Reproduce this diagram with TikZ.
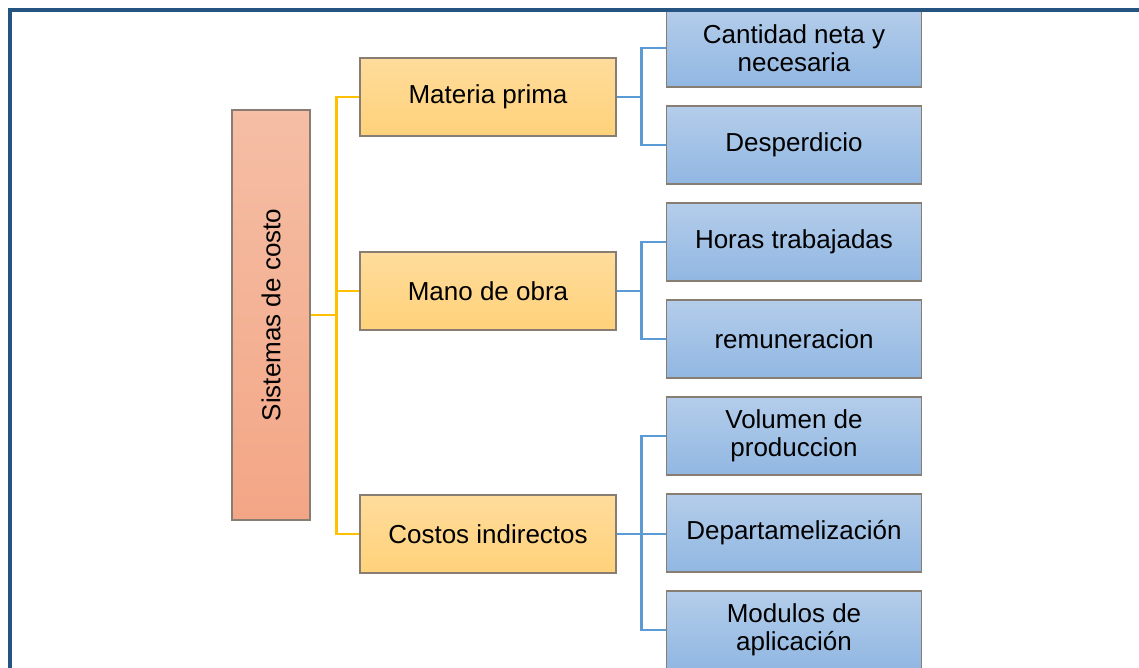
\documentclass[tikz,border=0pt]{standalone}
\usepackage{fontspec}
\setmainfont{Liberation Sans}
\usetikzlibrary{calc,chains,positioning}
\definecolor{framebl}{RGB}{38,84,128}
\definecolor{linegold}{RGB}{255,192,0}
\definecolor{lineblue}{RGB}{91,155,213}
\definecolor{edgegray}{RGB}{135,125,115}
\definecolor{salmontop}{RGB}{245,190,165}
\definecolor{salmonbot}{RGB}{243,166,134}
\definecolor{goldtop}{RGB}{255,220,156}
\definecolor{goldbot}{RGB}{255,210,122}
\definecolor{bluetop}{RGB}{180,205,234}
\definecolor{bluebot}{RGB}{145,183,226}
\tikzset{
  rootbox/.style={ % the tall title box on the left
    draw=edgegray, rectangle, line width=0.6pt,
    minimum width=39pt, minimum height=205pt, inner sep=0pt,
    top color=salmontop, bottom color=salmonbot
  },
  tier/.style={ % the three cost elements
    draw=edgegray, rectangle, line width=0.6pt,
    minimum width=128pt, minimum height=39pt, inner sep=2pt,
    top color=goldtop, bottom color=goldbot, align=center
  },
  leaf/.style={ % the detail boxes on the right
    draw=edgegray, rectangle, line width=0.6pt,
    minimum width=127.5pt, minimum height=39pt, inner sep=2pt,
    top color=bluetop, bottom color=bluebot, align=center
  },
  goldline/.style={draw=linegold, line width=1.3pt},
  blueline/.style={draw=lineblue, line width=1.2pt},
  frame/.style={draw=framebl, line width=2pt}
}
\begin{document}
\begin{tikzpicture}[
      x=0.5pt, y=-0.5pt,
      font=\fontsize{13}{14.2}\selectfont,
      start chain=leaves going below, node distance=8.9pt
    ]
    \useasboundingbox (0,0) rectangle (1139,668);
    \clip (0,0) rectangle (1139,668);

    \node[rootbox] (sis) at (271,315) {\rotatebox{90}{Sistemas de costo}};
    \node[tier] (mp) at (488,97) {Materia prima};
    \node[tier] (mo) at (488,291) {Mano de obra};
    \node[tier] (ci) at (488,534) {Costos indirectos};

    \node[leaf,on chain] (cn) at (794,48) {Cantidad neta y\\necesaria};
    \node[leaf,on chain] (de) {Desperdicio};
    \node[leaf,on chain] (ht) {Horas trabajadas};
    \node[leaf,on chain] (re) {remuneracion};
    \node[leaf,on chain] (vp) {Volumen de\\produccion};
    \node[leaf,on chain] (dp) {Departamelización};
    \node[leaf,on chain] (ma) {Modulos de\\aplicación};

    % gold tree from the title
    \coordinate (gbus) at ($(sis.east)+(12.8pt,0)$);
    \draw[goldline] (sis.east) -- (gbus);
    \draw[goldline] (mp.west) -| (gbus) |- (ci.west);
    \draw[goldline] (gbus |- mo.west) -- (mo.west);

    % blue branches to the details
    \coordinate (b1) at ($(mp.east)+(12.5pt,0)$);
    \coordinate (b2) at ($(mo.east)+(12.5pt,0)$);
    \coordinate (b3) at ($(ci.east)+(12.5pt,0)$);
    \draw[blueline] (mp.east) -- (b1);
    \draw[blueline] (cn.west) -| (b1) |- (de.west);
    \draw[blueline] (mo.east) -- (b2);
    \draw[blueline] (ht.west) -| (b2) |- (re.west);
    \draw[blueline] (ci.east) -- (ci.east -| dp.west);
    \draw[blueline] (vp.west) -| (b3) |- (ma.west);

    \draw[frame] (10,10) rectangle (1170,700);
  \end{tikzpicture}
\end{document}
